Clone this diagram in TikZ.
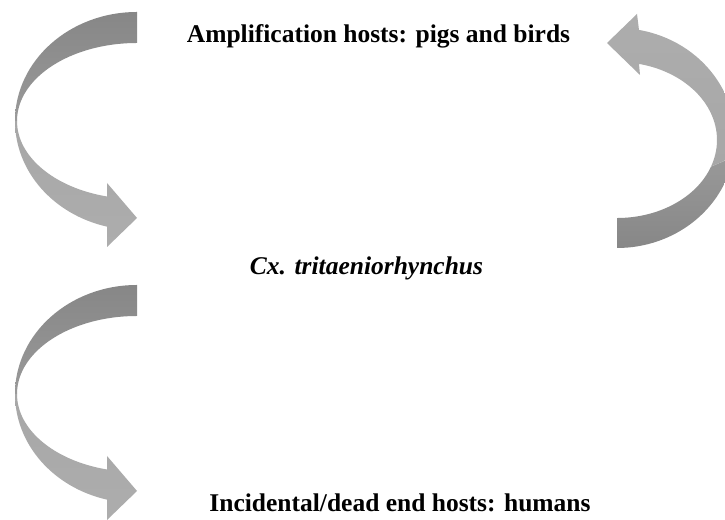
\documentclass[tikz,border=0pt]{standalone}
\usepackage{fontspec}
\setmainfont{Liberation Serif}
\definecolor{darkTop}{HTML}{878787}
\definecolor{darkMid}{HTML}{999999}
\definecolor{lightMid}{HTML}{A7A7A7}
\definecolor{lightEnd}{HTML}{ADADAD}
\tikzset{
  lbl/.style={anchor=base, inner sep=0pt, font=\fontsize{25.5bp}{30bp}\selectfont\bfseries},
  darkbandL/.style={draw=none, top color=darkTop, bottom color=darkMid},
  lightbandL/.style={draw=none, top color=lightMid, bottom color=lightEnd},
  darkbandR/.style={draw=none, top color=darkMid, bottom color=darkTop},
  lightbandR/.style={draw=none, top color=lightEnd, bottom color=lightMid},
}
\begin{document}
\begin{tikzpicture}[x=1bp, y=1bp]
\useasboundingbox (0,0) rectangle (725,520);
\clip (0,0) rectangle (725,520);
\fill[white] (0,0) rectangle (725,520);

% left curved arrows (top one and a copy shifted down)
\foreach \dy in {0,-273}{
\begin{scope}[shift={(0,\dy)}]
  \shade[darkbandL] (137,508) arc[start angle=90, end angle=180, x radius=122, y radius=109]
     -- (17,399) arc[start angle=180, end angle=90, x radius=120, y radius=78] -- cycle;
  \shade[lightbandL] (15,399) arc[start angle=180, end angle=255.77, x radius=122, y radius=109]
     -- (107,273) -- (137,302) -- (107,337) -- (107,323.5)
     arc[start angle=255.52, end angle=180, x radius=120, y radius=78] -- cycle;
\end{scope}
}

% right curved arrow
\shade[darkbandR] (617,272) arc[start angle=-90, end angle=-10, x radius=118, y radius=110]
   -- (711.0,353.3) arc[start angle=-20, end angle=-90, x radius=100, y radius=78] -- cycle;
\shade[lightbandR] (733.2,362.9) arc[start angle=-10, end angle=79.26, x radius=118, y radius=110]
   -- (637,506) -- (607,477) -- (640,445) -- (639,456.1)
   arc[start angle=77.29, end angle=-20, x radius=100, y radius=78] -- cycle;

\node[lbl] (amp) at (378.5,477) {Amplification hosts: pigs and birds};
\node[lbl] (cx) at (366.5,245) {\itshape Cx. tritaeniorhynchus};
\node[lbl] (inc) at (400,8) {Incidental/dead end hosts: humans};
\end{tikzpicture}
\end{document}
